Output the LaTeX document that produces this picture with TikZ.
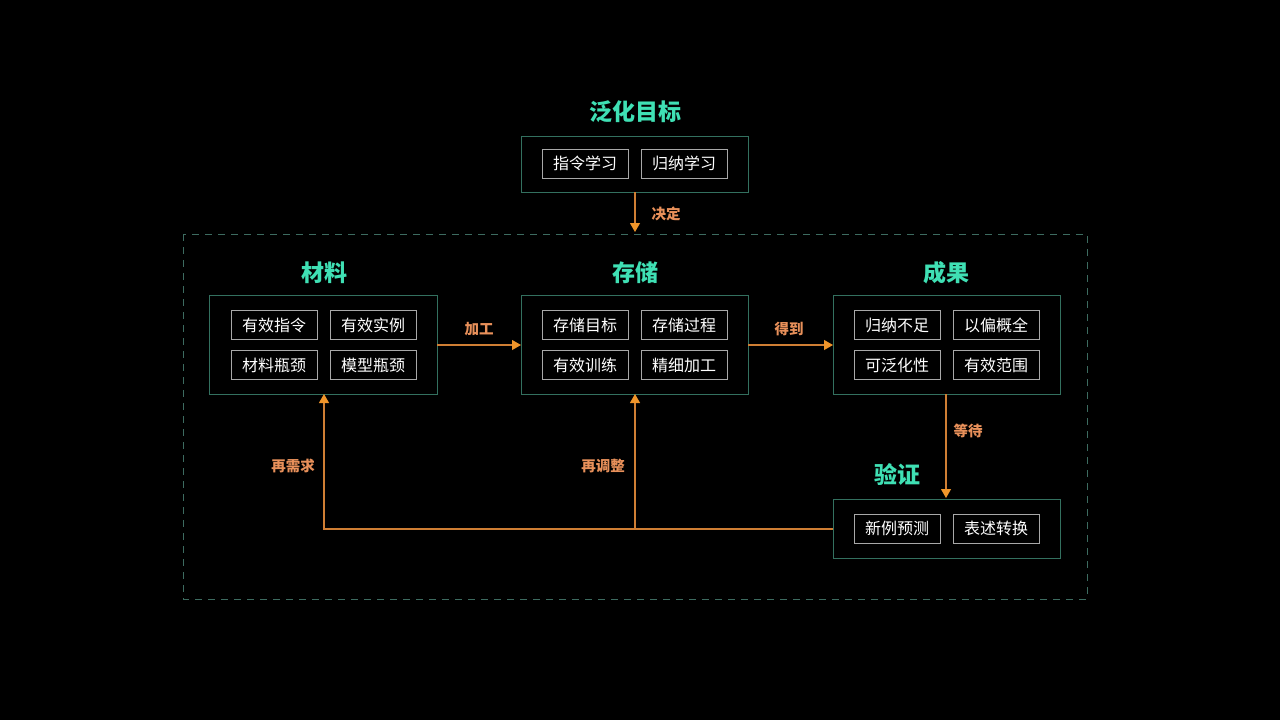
\documentclass[tikz,border=0pt]{standalone}
\usepackage{fontspec}
\setmainfont{Noto Sans CJK SC}
\usetikzlibrary{arrows.meta}
\definecolor{teal1}{HTML}{3FE0B4}
\definecolor{boxb}{HTML}{33705F}
\definecolor{dashc}{HTML}{3D6B60}
\definecolor{innerb}{HTML}{A8A8A8}
\definecolor{orng}{HTML}{CF7E34}
\definecolor{headc}{HTML}{F0952A}
\definecolor{lbl}{HTML}{E8905A}
\tikzset{
  title/.style={text=teal1, font=\fontsize{23}{25}\selectfont\bfseries, inner sep=0pt},
  grp/.style={draw=boxb, line width=1pt, fill=black},
  item/.style={draw=innerb, line width=0.8pt, minimum width=86pt, minimum height=29pt, inner sep=0pt, text=white, font=\fontsize{16}{18}\selectfont},
  conn/.style={draw=orng, line width=1.1pt, -{Triangle[length=9pt,width=10pt,color=headc]}},
  line/.style={draw=orng, line width=1.1pt},
  lab/.style={text=lbl, font=\fontsize{14.5}{16}\selectfont\bfseries, inner sep=0pt},
}
\begin{document}
\begin{tikzpicture}[x=1pt,y=-1pt]
\fill[black] (0,0) rectangle (1280,720);
\useasboundingbox (0,0) rectangle (1280,720);
% dashed frame
\draw[dashc, line width=1pt, dash pattern=on 7pt off 6pt] (183,234) rectangle (1087,599);
% groups
\draw[grp] (521,136) rectangle (748,192);
\coordinate (gtop) at (635,192);
\draw[grp] (209,295) rectangle (437,394);
\draw[grp] (521,295) rectangle (748,394);
\draw[grp] (833,295) rectangle (1060,394);
\draw[grp] (833,499) rectangle (1060,558);
% named anchors of groups
\coordinate (clS) at (437,345);
\coordinate (ccW) at (521,345);
\coordinate (ccE) at (748,345);
\coordinate (crW) at (833,345);
\coordinate (clB) at (324,394);
\coordinate (ccB) at (635,394);
\coordinate (crB) at (946,394);
\coordinate (vT) at (946,498);
\coordinate (vW) at (833,529);
\coordinate (dashT) at (635,232);
\coordinate (jL) at (324,529);
\coordinate (jC) at (635,529);
% titles
\node[title] (t0) at (635,112) {泛化目标};
\node[title] (t1) at (324,273) {材料};
\node[title] (t2) at (635,273) {存储};
\node[title] (t3) at (946,273) {成果};
\node[title] (t4) at (897,475) {验证};
% items
\node[item] (a1) at (585,163.5) {指令学习};
\node[item] (a2) at (684,163.5) {归纳学习};
\node[item] (b1) at (274,325) {有效指令};
\node[item] (b2) at (373,325) {有效实例};
\node[item] (b3) at (274,365) {材料瓶颈};
\node[item] (b4) at (373,365) {模型瓶颈};
\node[item] (c1) at (585,325) {存储目标};
\node[item] (c2) at (684,325) {存储过程};
\node[item] (c3) at (585,365) {有效训练};
\node[item] (c4) at (684,365) {精细加工};
\node[item] (d1) at (897,325) {归纳不足};
\node[item] (d2) at (996,325) {以偏概全};
\node[item] (d3) at (897,365) {可泛化性};
\node[item] (d4) at (996,365) {有效范围};
\node[item] (e1) at (897,528.5) {新例预测};
\node[item] (e2) at (996,528.5) {表述转换};
% connectors
\draw[conn] (gtop) -- (dashT);
\draw[conn] (clS) -- (ccW);
\draw[conn] (ccE) -- (crW);
\draw[conn] (crB) -- (vT);
\draw[line] (vW) -- (jC);
\draw[conn] (jC) -- (jL) -- (clB);
\draw[conn] (jC) -- (ccB);
% labels
\node[lab] (l1) at (666,214) {决定};
\node[lab] (l2) at (479,329) {加工};
\node[lab] (l3) at (789,329) {得到};
\node[lab] (l4) at (968,431) {等待};
\node[lab] (l5) at (293,466) {再需求};
\node[lab] (l6) at (603,466) {再调整};
\end{tikzpicture}
\end{document}
